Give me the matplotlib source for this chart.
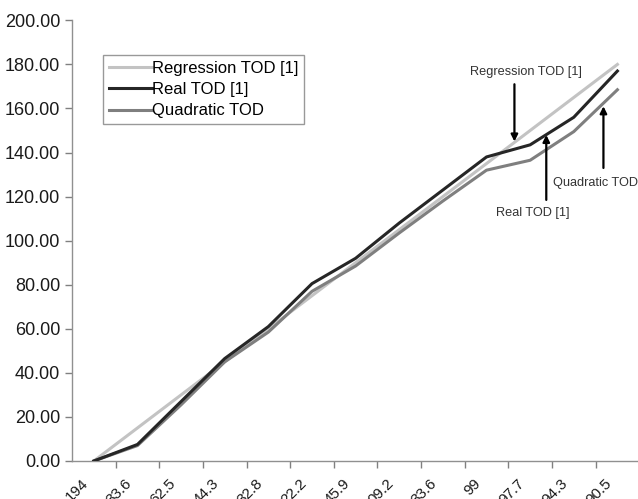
import numpy as np
import matplotlib.pyplot as plt
from matplotlib.transforms import ScaledTranslation

plt.rcParams['font.family'] = ['Liberation Sans', 'DejaVu Sans']

# x categories (labels as visible in the picture)
x_labels = ['194', '33.6', '62.5', '44.3', '32.8', '22.2', '45.9',
            '09.2', '33.6', '99', '97.7', '94.3', '90.5']

regression_tod = [0, 15, 30, 45, 60, 75, 90, 105, 120, 135, 150, 165, 180]
real_tod = [0, 7.5, 27, 46.5, 61, 80.5, 92, 108, 123, 138, 143.5, 156, 177]
quadratic_tod = [0, 7, 25.5, 45, 58.5, 77, 88.5, 103.5, 118, 132, 136.5, 149.5, 168.5]

x = np.arange(len(x_labels))

fig = plt.figure(figsize=(6.38, 4.99), dpi=100)
ax = fig.add_axes([0.1129, 0.0762, 0.889, 0.883])

ax.plot(x, regression_tod, color='#c3c3c3', lw=2.2, label='Regression TOD [1]', zorder=2)
ax.plot(x, quadratic_tod, color='#7f7f7f', lw=2.2, label='Quadratic TOD', zorder=3)
ax.plot(x, real_tod, color='#262626', lw=2.2, label='Real TOD [1]', zorder=4)

ax.set_xlim(-0.5, len(x_labels) - 0.5)
ax.set_ylim(0, 200)
ax.set_yticks(np.arange(0, 201, 20))
ax.set_yticklabels(['%.2f' % v for v in np.arange(0, 201, 20)], fontsize=13, color='#1a1a1a')

# tick marks between categories, labels at category centres
ax.set_xticks(np.arange(len(x_labels)) + 0.5)
ax.set_xticklabels([])
ax.set_xticks(x, minor=True)
ax.set_xticklabels(x_labels, minor=True, rotation=45, ha='right', va='top',
                   rotation_mode='anchor', fontsize=11, color='#1a1a1a')
ax.tick_params(axis='x', which='minor', length=0, pad=11)
ax.tick_params(axis='both', which='major', color='#808080', length=5, width=1)
shift = ScaledTranslation(-13 / 100, 0, fig.dpi_scale_trans)
for t in ax.get_xticklabels(minor=True):
    t.set_transform(t.get_transform() + shift)

for s in ['top', 'right']:
    ax.spines[s].set_visible(False)
for s in ['left', 'bottom']:
    ax.spines[s].set_color('#909090')
    ax.spines[s].set_linewidth(1)

h, l = ax.get_legend_handles_labels()
order = [0, 2, 1]
leg = fig.legend([h[i] for i in order], [l[i] for i in order],
                 loc='upper left', bbox_to_anchor=(103 / 638, 1 - 55 / 499),
                 fontsize=12, frameon=True, fancybox=False, edgecolor='#808080',
                 handlelength=2.6, handletextpad=0.0, labelspacing=0.38,
                 borderpad=0.35, borderaxespad=0)
leg.get_frame().set_linewidth(1)

# annotations
arrow = dict(arrowstyle='-|>', color='black', lw=1.6, mutation_scale=10, shrinkA=0, shrinkB=0)
ax.text(9.91, 176.5, 'Regression TOD [1]', fontsize=9.2, color='#333333', ha='center', va='center')
ax.annotate('', xy=(9.64, 145), xytext=(9.64, 171), arrowprops=arrow)
ax.text(10.07, 112.5, 'Real TOD [1]', fontsize=9.2, color='#333333', ha='center', va='center')
ax.annotate('', xy=(10.37, 148), xytext=(10.37, 118.5), arrowprops=arrow)
ax.text(11.5, 126, 'Quadratic TOD', fontsize=9.2, color='#333333', ha='center', va='center')
ax.annotate('', xy=(11.68, 161), xytext=(11.68, 133), arrowprops=arrow)

fig.savefig('out.png', dpi=100)
